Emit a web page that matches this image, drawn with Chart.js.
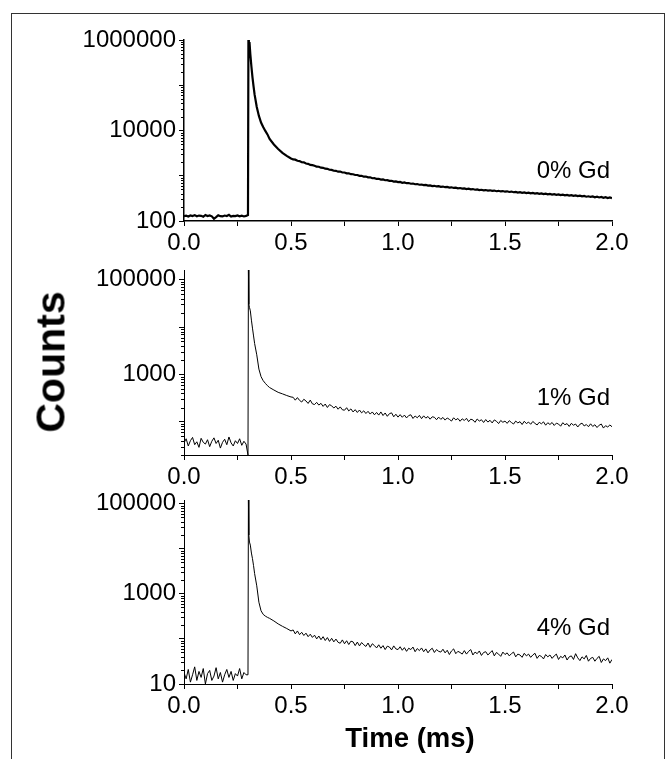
<!DOCTYPE html>
<html><head><meta charset="utf-8">
<script src="https://cdn.jsdelivr.net/npm/chart.js@4/dist/chart.umd.min.js"></script>
<style>
html,body{margin:0;padding:0;background:#fff;}
#wrap{position:relative;width:670px;height:759px;overflow:hidden;background:#fff;}
canvas{position:absolute;left:0;top:0;}
.frame{position:absolute;left:11px;top:13px;width:652px;height:800px;border:1px solid #333;}
.lbl{position:absolute;font-family:"Liberation Sans",Arial,sans-serif;color:#000;line-height:1;white-space:nowrap;}
</style></head><body>
<div id="wrap">
<div class="frame"></div>
<canvas id="c0" width="670" height="759"></canvas>
<canvas id="c1" width="670" height="759"></canvas>
<canvas id="c2" width="670" height="759"></canvas>
<div class="lbl" id="counts" style="left:51px;top:362px;font-size:41px;font-weight:bold;transform:translate(-50%,-50%) rotate(-90deg);">Counts</div>
<div class="lbl" id="xtitle" style="left:410px;top:738px;font-size:27.5px;font-weight:bold;transform:translate(-50%,-50%);">Time (ms)</div>
<div class="lbl" id="p0" style="right:60px;top:170px;font-size:24px;transform:translateY(-50%);">0% Gd</div>
<div class="lbl" id="p1" style="right:60px;top:397px;font-size:24px;transform:translateY(-50%);">1% Gd</div>
<div class="lbl" id="p2" style="right:60px;top:627px;font-size:24px;transform:translateY(-50%);">4% Gd</div>
</div>
<script>
// ---- time grid (ms) ----
const baseTimes = [0.00,0.01,0.02,0.03,0.04,0.05,0.06,0.07,0.08,0.09,0.10,0.11,0.12,0.13,0.14,0.15,0.16,0.17,0.18,0.19,0.20,0.21,0.22,0.23,0.24,0.25,0.26,0.27,0.28,0.29];
const spikeTimes = [0.299,0.301,0.303,0.306,0.31,0.315,0.32,0.325,0.33,0.34,0.35,0.36,0.37,0.38,0.39,0.40,0.42,0.44,0.46,0.48,0.50];
const tailTimes = [];
for (let i = 51; i <= 200; i++) tailTimes.push(i / 100);

// ---- 0% Gd counts ----
const gd0Base = [128,131,126,133,129,135,127,132,130,124,136,129,133,127,112,122,134,128,126,132,129,137,125,130,128,133,127,131,126,130];
const gd0Spike = [135,1000000,620000,900000,480000,260000,150000,95000,62000,33000,21000,15000,12000,9800,8200,6500,4900,3900,3200,2750,2400];
const gd0Tail = [2290,2265,2140,2110,1990,1975,1860,1835,1740,1715,
 1670,1590,1580,1505,1500,1430,1420,1355,1345,1290,
 1285,1230,1235,1180,1180,1130,1135,1085,1080,1040,
 1040,995,1000,955,960,920,925,880,885,850,
 855,820,828,795,800,770,775,745,750,722,
 728,700,710,684,690,666,674,649,655,633,
 640,620,628,605,614,592,600,580,588,568,
 577,558,566,548,556,538,546,528,536,519,
 527,509,518,500,508,491,499,483,490,474,
 483,468,477,462,471,455,465,450,459,444,
 453,438,447,432,440,426,434,420,428,414,
 423,409,418,404,413,398,408,394,403,389,
 398,385,393,380,388,375,383,369,378,364,
 373,360,368,355,363,350,358,344,352,340,
 348,335,344,331,340,326,336,322,332,321];

// ---- 1% Gd counts ----
const gd1Base = [36,44,31,40,47,33,38,29,45,37,34,42,30,39,46,35,41,28,37,43,33,48,36,31,40,35,44,32,39,34];
const gd1Spike = [20,160000,30000,26000,22000,14000,9500,6500,4500,2600,1300,900,740,650,580,530,470,420,390,360,335];
const gd1Tail = [330,287,325,284,262,300,276,245,288,240,
 232,258,226,246,212,238,201,231,218,196,
 214,185,207,180,176,199,170,188,162,181,
 158,178,155,171,150,167,146,162,141,158,
 139,162,136,154,131,149,155,128,145,126,
 142,125,139,121,136,141,118,133,122,137,
 117,134,120,130,114,128,125,111,126,113,
 124,109,121,113,104,122,110,118,103,116,
 107,119,101,114,110,98,115,104,111,97,
 112,99,108,95,110,103,92,107,98,104,
 93,106,97,90,104,95,101,88,103,92,
 99,89,102,93,86,98,91,100,85,96,
 88,97,84,94,90,81,96,87,92,80,
 93,85,90,78,89,94,82,88,79,91,
 80,87,76,85,90,74,83,78,86,79];

// ---- 4% Gd counts ----
const gd4Base = [18,13,21,11,16,24,12,19,14,22,10,17,20,12,15,23,13,18,11,16,21,14,19,12,17,15,22,13,18,16];
const gd4Spike = [16,120000,20000,14000,12000,8000,6000,4200,2800,1500,650,420,350,320,300,285,250,215,190,170,150];
const gd4Tail = [158,129,150,124,140,119,134,112,127,108,
 121,100,116,96,112,92,107,88,103,86,
 99,84,80,95,78,91,75,89,86,71,
 85,70,83,74,68,81,65,78,71,63,
 74,62,71,58,69,66,57,70,60,58,
 67,56,64,53,62,58,66,52,61,55,
 63,52,60,49,57,62,50,58,53,51,
 59,49,56,45,54,60,47,53,50,46,
 55,46,53,58,44,51,47,54,43,50,
 52,44,49,55,42,50,46,41,51,45,
 49,42,47,51,40,46,44,39,48,42,
 46,39,44,48,37,43,41,36,45,40,
 44,37,42,46,35,41,38,44,34,40,
 42,35,47,38,33,40,36,43,32,37,
 39,32,37,41,30,36,33,38,29,35];

// ---- tick labels ----
const xTickLabels = ['0.0','0.5','1.0','1.5','2.0'];
const y0Labels = [100, 10000, 1000000];
const y1Labels = [1000, 100000];
const y2Labels = [10, 1000, 100000];

const allTimes = baseTimes.concat(spikeTimes, tailTimes);
function pts(base, spike, tail) {
  const v = base.concat(spike, tail);
  return allTimes.map((t, i) => ({x: t, y: v[i]}));
}

const FONT = '"Liberation Sans", Arial, sans-serif';
const AXIS_W = 184, RIGHT_PAD = 58, XH = 42, H = 759;

const minorTicks = {
  id: 'minorTicks',
  afterDraw(chart) {
    const ctx = chart.ctx, y = chart.scales.y;
    ctx.save();
    ctx.strokeStyle = '#000';
    ctx.lineWidth = 1;
    for (let e = 0; e < 7; e++) {
      for (let m = 2; m < 10; m++) {
        const v = m * Math.pow(10, e);
        if (v < y.min || v > y.max) continue;
        const py = Math.round(y.getPixelForValue(v)) + 0.5;
        ctx.beginPath();
        ctx.moveTo(y.right - 3, py);
        ctx.lineTo(y.right, py);
        ctx.stroke();
      }
    }
    ctx.restore();
  }
};

function panel(id, data, yMin, yMax, labels, lw, top, bottom) {
  const decades = [];
  for (let e = 0; e < 7; e++) {
    const v = Math.pow(10, e);
    if (v >= yMin && v <= yMax) decades.push(v);
  }
  new Chart(document.getElementById(id), {
    type: 'line',
    data: {datasets: [{data: data, borderColor: '#000', borderWidth: lw, pointRadius: 0, tension: 0, fill: false}]},
    options: {
      responsive: false, animation: false, events: [],
      layout: {padding: {left: 0, right: RIGHT_PAD, top: top, bottom: H - bottom - XH}},
      plugins: {legend: {display: false}, tooltip: {enabled: false}},
      scales: {
        x: {
          type: 'linear', min: 0, max: 2,
          afterFit: s => { s.height = XH; },
          afterBuildTicks: s => { s.ticks = [0,0.25,0.5,0.75,1,1.25,1.5,1.75,2].map(v => ({value: v})); },
          ticks: {
            autoSkip: false, maxRotation: 0, padding: 3, color: '#000',
            font: {family: FONT, size: 24},
            callback: v => { const k = Math.round(v * 2); return Math.abs(v * 2 - k) < 1e-6 ? xTickLabels[k] : ''; }
          },
          grid: {drawOnChartArea: false, drawTicks: true, tickLength: 5, tickColor: '#000', tickWidth: 1},
          border: {display: true, color: '#000', width: lw > 1 ? 1.5 : 1}
        },
        y: {
          type: 'logarithmic', min: yMin, max: yMax,
          afterFit: s => { s.width = AXIS_W; },
          afterBuildTicks: s => { s.ticks = decades.map(v => ({value: v})); },
          ticks: {
            autoSkip: false, padding: 3, color: '#000',
            font: {family: FONT, size: 24},
            callback: v => labels.includes(v) ? String(v) : ''
          },
          grid: {drawOnChartArea: false, drawTicks: true, tickLength: 5, tickColor: '#000', tickWidth: 1},
          border: {display: true, color: '#000', width: lw > 1 ? 1.5 : 1}
        }
      }
    },
    plugins: [minorTicks]
  });
}

panel('c0', pts(gd0Base, gd0Spike, gd0Tail), 100, 1000000, y0Labels, 2.2, 40, 221);
panel('c1', pts(gd1Base, gd1Spike, gd1Tail), 20, 160000, y1Labels, 1, 270, 455);
panel('c2', pts(gd4Base, gd4Spike, gd4Tail), 10, 120000, y2Labels, 1, 500, 684);
</script>
</body></html>
